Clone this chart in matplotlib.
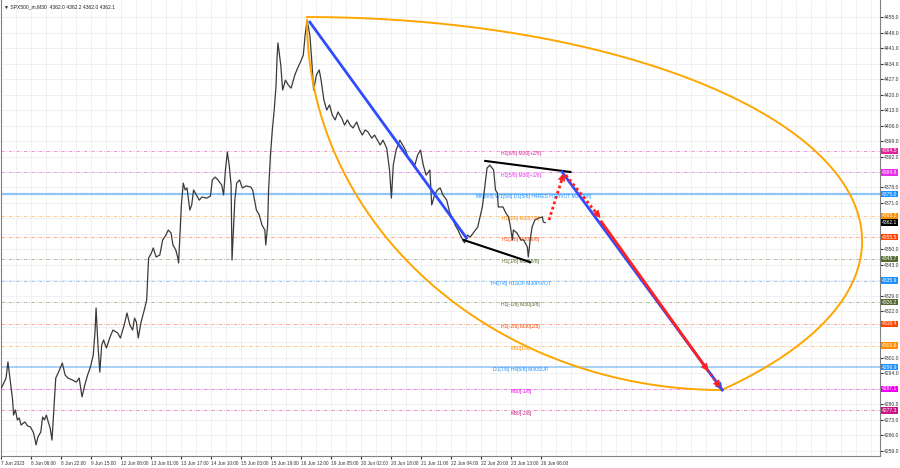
import numpy as np
import matplotlib.pyplot as plt
from matplotlib import transforms

plt.rcParams['font.family'] = ['Liberation Sans', 'DejaVu Sans']

# SPX500 M30 closes (bar index -> price)
bars = [
    0, 3, 5, 7, 10, 12, 13, 15, 17, 19,
    21, 25, 28, 31, 34, 36, 37, 39, 42, 44,
    46, 48, 50, 52, 54, 58, 61, 65, 68, 71,
    76, 80, 83, 86, 89, 92, 95, 98, 100, 101,
    103, 105, 107, 109, 112, 116, 119, 124, 127, 131,
    134, 137, 140, 142, 144, 146, 149, 153, 155, 156,
    157, 160, 162, 165, 169, 172, 175, 178, 181, 183,
    186, 188, 189, 191, 192, 194, 196, 198, 201, 203,
    205, 208, 211, 214, 219, 223, 225, 228, 231, 235,
    237, 239, 241, 243, 245, 246, 249, 251, 254, 257,
    261, 266, 268, 270, 272, 275, 278, 281, 282, 284,
    285, 287, 289, 291, 293, 294, 295, 298, 300, 303,
    306, 309, 313, 316, 319, 322, 324, 326, 329, 331,
    333, 336, 339, 341, 344, 347, 350, 353, 356, 359,
    363, 366, 369, 372, 375, 379, 382, 385, 388, 391,
    395, 398, 401, 404, 407, 411, 414, 416, 418, 421,
    425, 428, 431, 434, 437, 441, 444, 447, 450, 453,
    457, 459, 462, 465, 468, 471, 475, 478, 481, 484,
    487, 491, 494, 497, 500, 508, 513, 516, 518, 521,
    525, 527, 529, 530, 535, 538, 541, 543, 545, 546,
    550, 554, 557, 561, 562, 564, 566, 569, 573, 577,
    578, 580,
]
closes = [
    4287.4, 4290.1, 4291.9, 4299.2, 4288.8, 4282.0, 4275.2, 4277.5, 4273.0, 4273.9,
    4270.7, 4272.1, 4270.3, 4269.8, 4267.5, 4263.9, 4261.7, 4265.3, 4267.5, 4274.3,
    4273.0, 4275.2, 4272.1, 4269.4, 4263.9, 4291.9, 4294.6, 4298.7, 4293.3, 4291.9,
    4291.0, 4290.1, 4291.9, 4283.4, 4288.8, 4293.3, 4296.9, 4302.3, 4313.6, 4323.6,
    4306.8, 4294.6, 4306.8, 4309.1, 4305.5, 4310.5, 4313.6, 4312.3, 4310.0, 4315.9,
    4321.3, 4315.9, 4313.6, 4319.0, 4317.2, 4310.0, 4317.2, 4323.6, 4327.2, 4336.2,
    4346.1, 4348.4, 4350.7, 4346.6, 4347.5, 4354.3, 4356.1, 4358.8, 4357.4, 4352.0,
    4349.8, 4346.6, 4343.9, 4361.0, 4370.1, 4380.0, 4376.9, 4377.8, 4367.8, 4370.1,
    4376.9, 4374.6, 4372.3, 4373.7, 4373.2, 4374.1, 4381.4, 4382.7, 4381.4, 4379.1,
    4374.6, 4385.9, 4394.0, 4388.1, 4379.1, 4345.2, 4372.3, 4380.0, 4381.4, 4377.8,
    4378.7, 4378.2, 4376.9, 4372.3, 4367.8, 4365.6, 4361.0, 4358.8, 4352.0, 4361.0,
    4376.9, 4392.7, 4404.0, 4413.0, 4424.3, 4436.5, 4443.3, 4433.3, 4422.0, 4426.5,
    4424.3, 4422.9, 4428.8, 4432.0, 4434.7, 4437.8, 4446.9, 4453.6, 4446.9, 4435.6,
    4422.0, 4428.8, 4431.1, 4426.5, 4417.5, 4413.0, 4415.3, 4410.7, 4408.5, 4412.1,
    4409.4, 4406.2, 4408.5, 4406.2, 4404.9, 4407.6, 4404.0, 4401.7, 4404.0, 4403.1,
    4400.3, 4401.7, 4399.4, 4397.2, 4399.4, 4395.8, 4385.9, 4373.2, 4388.1, 4394.9,
    4399.4, 4397.2, 4394.9, 4391.3, 4390.4, 4388.1, 4392.7, 4394.9, 4388.1, 4383.6,
    4385.9, 4370.1, 4374.6, 4376.9, 4377.8, 4374.6, 4372.3, 4366.9, 4364.2, 4361.0,
    4358.8, 4355.2, 4353.0, 4356.5, 4355.6, 4360.1, 4369.2, 4380.0, 4386.8, 4388.1,
    4385.9, 4376.9, 4375.5, 4369.2, 4369.2, 4366.5, 4364.7, 4360.1, 4354.3, 4358.8,
    4357.4, 4354.3, 4354.3, 4351.1, 4346.6, 4354.3, 4360.1, 4363.3, 4364.2, 4364.7,
    4362.4, 4362.1,
]
last_price = 4362.1

# time labels, one every 32 bars
time_labels = ["7 Jun 2023", "8 Jun 06:00", "8 Jun 22:00", "9 Jun 15:00", "12 Jun 08:00",
               "13 Jun 01:00", "13 Jun 17:00", "14 Jun 10:00", "15 Jun 03:00", "15 Jun 19:00",
               "16 Jun 12:00", "19 Jun 05:00", "20 Jun 02:00", "20 Jun 18:00", "21 Jun 11:00",
               "22 Jun 04:00", "22 Jun 20:00", "23 Jun 13:00", "26 Jun 06:00"]

# Murrey math levels
levels = [4394.5, 4384.8, 4375.0, 4365.2, 4355.5, 4345.7, 4335.9,
          4326.2, 4316.4, 4306.6, 4296.9, 4287.1, 4277.3]
level_names = ["H1[6/8] M30[+2/8]", "H1[5/8] M30[+1/8]",
               "MN[6/8] W1[5/8] D1[5/8] H4RES H1PIVOT M30[8/8]",
               "H1[3/8] M30[7/8]", "H1[2/8] M30[6/8]", "H1[1/8] M30[5/8]",
               "H4[7/8] H1SUP M30PIVOT", "H1[-1/8] M30[3/8]", "H1[-2/8] M30[2/8]",
               "M30[1/8]", "D1[7/8] H4[6/8] M30SUP", "M30[-1/8]", "M30[-2/8]"]
level_colors = ['#e0239c', '#e62ee6', '#1e90ff', '#ff8c00', '#ff4500', '#556b2f', '#1e90ff',
                '#556b2f', '#ff4500', '#ff8c00', '#1e90ff', '#ee00ee', '#c71585']

# hand drawn objects (bar, price)
blue_trend = [(329, 4452.7), (496, 4355.2)]
channel_top = [(516, 4390.0), (607, 4385.0)]
channel_bottom = [(493, 4354.3), (564, 4344.3)]
red_dot_up = [(584, 4363.3), (600, 4384.5)]
red_dot_down = [(602, 4383.6), (639, 4364.2)]
red_main = [(640, 4362.5), (754, 4295.0)]
red_tail = [(756, 4294.0), (767, 4287.5)]
blue_main = [(598, 4385.0), (769, 4286.5)]
outer_arc = dict(center=(326, 4353.8), rx=592, ry=101.2, t0=90, t1=-41.6)
inner_arc = dict(center=(769, 4453.6), rx=443, ry=167.1, t0=180, t1=270)

fig = plt.figure(figsize=(9, 4.68), dpi=100)
ax = fig.add_axes([0.001, 12 / 468, 879 / 900, 456 / 468])
ax.set_xlim(-0.5, 937)
ax.set_ylim(4256.7, 4462.7)

# grid
for gx in range(0, 937, 16):
    ax.axvline(gx, color='#ececec', lw=0.5, zorder=0)
yticks = np.arange(4259, 4456, 7)
for gy in yticks:
    ax.axhline(gy, color='#ececec', lw=0.5, zorder=0)

# level lines + labels
for lv, name, col in zip(levels, level_names, level_colors):
    if name.startswith('MN') or name.startswith('D1'):
        ax.axhline(lv, color='#8ec5f5', lw=1.6 if name.startswith('MN') else 1.1, zorder=1)
    else:
        ax.axhline(lv, color=col, lw=0.6, alpha=0.55, ls=(0, (4, 2, 1, 2)), zorder=1)
    xc = 568 if name.startswith('MN') else 554
    ax.text(xc, lv - 1.2, name, color=col, fontsize=3.6, ha='center', va='center', zorder=2)

# price
ax.plot(bars, closes, color='#3a3a3a', lw=0.9, zorder=3)

# arcs
for arc in (outer_arc, inner_arc):
    t = np.radians(np.linspace(arc['t0'], arc['t1'], 200))
    cx, cy = arc['center']
    ax.plot(cx + arc['rx'] * np.cos(t), cy + arc['ry'] * np.sin(t), color='#ffa500', lw=1.4, zorder=4)

# lines
ax.plot(*zip(*blue_trend), color='#2f4cff', lw=2, zorder=5)
ax.plot(*zip(*channel_top), color='black', lw=1.5, zorder=5)
ax.plot(*zip(*channel_bottom), color='black', lw=1.5, zorder=5)


def arrow(seg, color, ls):
    (x0, y0), (x1, y1) = seg
    ax.plot([x0, x1], [y0, y1], color=color, lw=2, ls=ls, zorder=6)
    ax.annotate('', xy=(x1, y1), xytext=(x1 - 0.12 * (x1 - x0), y1 - 0.12 * (y1 - y0)),
                arrowprops=dict(arrowstyle='-|>,head_length=0.6,head_width=0.3', color=color,
                                lw=0.5, shrinkA=0, shrinkB=0, mutation_scale=8), zorder=7)


arrow(blue_main, '#2f4cff', '-')
arrow(red_main, '#ff2020', '-')
arrow(red_tail, '#ff2020', (0, (1, 1)))
arrow(red_dot_up, '#ff2020', (0, (1, 1)))
arrow(red_dot_down, '#ff2020', (0, (1, 1)))

# axes styling
ax.spines['top'].set_visible(False)
for s in ('left', 'right', 'bottom'):
    ax.spines[s].set_color('#808080')
    ax.spines[s].set_linewidth(0.8)

# hide axis numbers that sit under a price tag
tags = levels + [last_price]
shown = [v for v in yticks if min(abs(v - t) for t in tags) >= 2.4]
ax.yaxis.tick_right()
ax.set_yticks(shown)
ax.set_yticklabels([f'{v:.1f}' for v in shown])
ax.tick_params(axis='y', labelsize=3.6, length=2, pad=1.2, colors='#333333')
ax.set_xticks(np.arange(0, 32 * len(time_labels), 32))
ax.set_xticklabels(time_labels)
ax.tick_params(axis='x', labelsize=3.4, length=2, pad=1.5, colors='#333333')
for lbl in ax.get_xticklabels():
    lbl.set_ha('left')

# price tags on the right axis
tr = transforms.blended_transform_factory(ax.transAxes, ax.transData)
for lv, col in zip(tags, level_colors + ['black']):
    ax.text(1.002, lv, f'{lv:.1f}', transform=tr, color='white', fontsize=3.6, va='center',
            ha='left', bbox=dict(facecolor=col, edgecolor='none', pad=0.5), clip_on=False, zorder=10)

ax.text(0.004, 0.985, '\u25bc SPX500_m,M30  4362.0 4362.2 4362.0 4362.1', transform=ax.transAxes,
        fontsize=3.6, va='center', ha='left', color='#222222')

fig.savefig('out.png', dpi=100)
